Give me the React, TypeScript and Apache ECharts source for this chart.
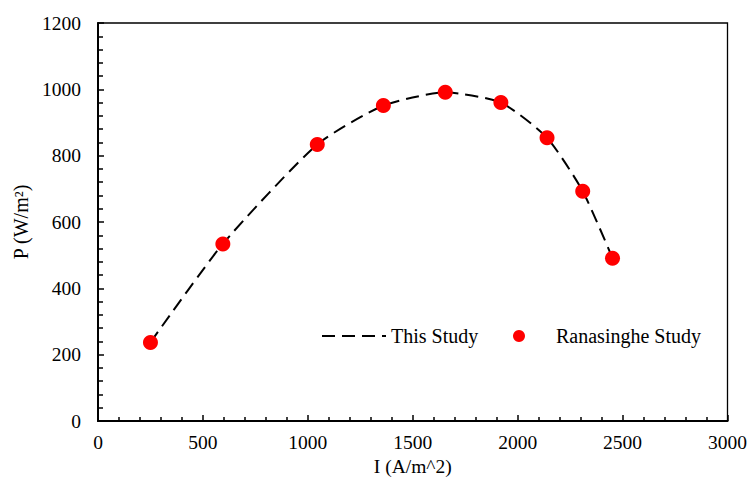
import React, { useEffect, useRef } from "react";
import * as echarts from "echarts";

const currentDensity = [250, 595, 1045, 1360, 1655, 1920, 2140, 2310, 2452];
const thisStudy = [237, 534, 834, 951, 991, 960, 854, 693, 491];
const ranasinghe = [237, 534, 834, 951, 991, 960, 854, 693, 491];
const xTicks = [0, 500, 1000, 1500, 2000, 2500, 3000];
const yTicks = [0, 200, 400, 600, 800, 1000, 1200];

const FONT = "'Liberation Serif', 'Times New Roman', serif";

export default function App() {
  const ref = useRef<HTMLDivElement>(null);
  useEffect(() => {
    if (!ref.current) return;
    const chart = echarts.init(ref.current, null, { renderer: "svg" });
    const lineData = currentDensity.map((x, i) => [x, thisStudy[i]]);
    const dotData = currentDensity.map((x, i) => [x, ranasinghe[i]]);
    chart.setOption({
      animation: false,
      backgroundColor: "#fff",
      textStyle: { fontFamily: FONT },
      grid: {
        left: 98,
        right: 21,
        top: 23,
        bottom: 64,
        show: true,
        borderColor: "#000",
        borderWidth: 1.3,
      },
      legend: [
        {
          left: 316,
          top: 321,
          itemWidth: 64,
          itemHeight: 12,
          textStyle: { fontFamily: FONT, fontSize: 20, color: "#000" },
          data: [{ name: "This Study", itemStyle: { opacity: 0 } }],
        },
        {
          left: 508,
          top: 321,
          itemWidth: 14,
          itemHeight: 12,
          textStyle: {
            fontFamily: FONT,
            fontSize: 20,
            color: "#000",
            padding: [0, 0, 0, 25],
          },
          data: [{ name: "Ranasinghe Study", icon: "circle" }],
        },
      ],
      xAxis: {
        type: "value",
        min: xTicks[0],
        max: xTicks[xTicks.length - 1],
        interval: 500,
        name: "I (A/m^2)",
        nameLocation: "middle",
        nameGap: 35,
        nameTextStyle: { fontFamily: FONT, fontSize: 19.5, color: "#000" },
        axisLine: { show: true, lineStyle: { color: "#000", width: 2 } },
        axisTick: { show: true, inside: true, length: 6, lineStyle: { color: "#000", width: 1.5 } },
        minorTick: { show: true, splitNumber: 5, length: 4, lineStyle: { color: "#000", width: 1.5 } },
        splitLine: { show: false },
        axisLabel: {
          fontFamily: FONT,
          fontSize: 19.5,
          color: "#000",
          margin: 11,
          formatter: (v: number) => String(v),
        },
      },
      yAxis: {
        type: "value",
        min: yTicks[0],
        max: yTicks[yTicks.length - 1],
        interval: 200,
        name: "P (W/m²)",
        nameLocation: "middle",
        nameGap: 62,
        nameRotate: 90,
        nameTextStyle: { fontFamily: FONT, fontSize: 20, color: "#000" },
        axisLine: { show: true, lineStyle: { color: "#000", width: 2 } },
        axisTick: { show: true, inside: true, length: 6, lineStyle: { color: "#000", width: 1.5 } },
        minorTick: { show: true, splitNumber: 5, length: 5, lineStyle: { color: "#000", width: 1.5 } },
        splitLine: { show: false },
        axisLabel: {
          fontFamily: FONT,
          fontSize: 19.5,
          color: "#000",
          margin: 17,
          formatter: (v: number) => String(v),
        },
      },
      series: [
        {
          name: "This Study",
          type: "line",
          data: lineData,
          smooth: 0.2,
          showSymbol: false,
          symbol: "none",
          itemStyle: { color: "#000" },
          lineStyle: { color: "#000", width: 2, type: [13, 7] },
          z: 2,
        },
        {
          name: "Ranasinghe Study",
          type: "scatter",
          data: dotData,
          symbol: "circle",
          symbolSize: 15,
          itemStyle: { color: "#ff0000", opacity: 1 },
          z: 3,
        },
      ],
    });
    return () => chart.dispose();
  }, []);
  return (
    <div
      ref={ref}
      style={{ position: "fixed", left: 0, top: 0, width: 750, height: 485 }}
    />
  );
}
